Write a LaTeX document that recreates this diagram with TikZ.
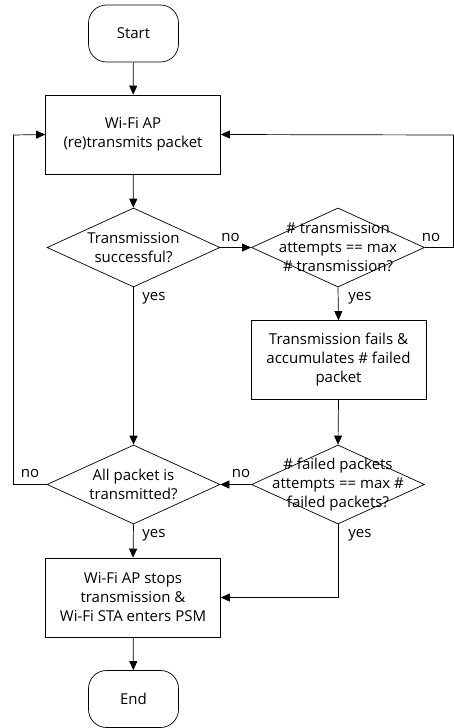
\documentclass[tikz,border=0pt]{standalone}
\usepackage{fontspec}
\setmainfont{Open Sans}
\usetikzlibrary{shapes.geometric,arrows.meta}
\begin{document}
\begin{tikzpicture}[x=1pt,y=-1pt,
  font=\fontsize{15}{19}\selectfont,
  line width=0.7pt,
  arr/.style={-{Triangle[length=9pt,width=8pt]}},
  term/.style={draw,rounded corners=18pt,minimum width=90pt,minimum height=57pt,inner sep=0pt},
  proc/.style={draw,minimum width=175pt,minimum height=79pt,inner sep=0pt,align=center},
  dec/.style={draw,diamond,minimum width=173pt,minimum height=79pt,inner sep=0pt},
  dtext/.style={align=center,inner sep=0pt},
  lbl/.style={inner sep=0pt}]
\useasboundingbox (0,0) rectangle (454,728);
\node[term] (start) at (133.5,33.5) {Start};
\node[proc] (box1) at (133,134.5) {Wi-Fi AP\\(re)transmits packet};
\node[dec] (d1) at (133.5,247.5) {};
\node[dtext] (d1t) at (d1) {Transmission\\successful?};
\node[dec] (d2) at (338,247.5) {};
\node[dtext] (d2t) at (d2) {\# transmission\\attempts == max\\\# transmission?};
\node[proc] (box2) at (338.5,360) {Transmission fails \&\\accumulates \# failed\\packet};
\node[dec] (d3) at (338,484.5) {};
\node[dtext] (d3t) at (d3) {\# failed packets\\attempts == max \#\\failed packets?};
\node[dec] (d4) at (133.5,484.5) {};
\node[dtext] (d4t) at (d4) {All packet is\\transmitted?};
\node[proc] (box3) at (133,597.5) {Wi-Fi AP stops\\transmission \&\\Wi-Fi STA enters PSM};
\node[term] (end) at (133.5,699) {End};
\coordinate (rt) at (453.5,247.5);
\coordinate (rtop) at (453.5,135);
\coordinate (lb) at (13.5,484.5);
\coordinate (ltop) at (13.5,135);
\draw[arr] (start) -- (box1);
\draw[arr] (box1) -- (d1);
\draw[arr] (d1.east) -- (d2.west);
\draw[arr] (d2.east) -- (rt) -- (rtop) -- (box1.east);
\draw[arr] (d2.south) -- (box2.north);
\draw[arr] (d1.south) -- (d4.north);
\draw[arr] (box2.south) -- (d3.north);
\draw[arr] (d3.west) -- (d4.east);
\draw[arr] (d4.west) -- (lb) -- (ltop) -- (box1.west);
\draw[arr] (d4.south) -- (box3.north);
\draw[arr] (d3.south) |- (box3.east);
\draw[arr] (box3) -- (end);
\node[lbl] (n1) at (230.5,237) {no};
\node[lbl] (n2) at (431,237) {no};
\node[lbl] (n3) at (30,473) {no};
\node[lbl] (n4) at (241,473) {no};
\node[lbl] (y1) at (154,298) {yes};
\node[lbl] (y2) at (360,298) {yes};
\node[lbl] (y3) at (154,535) {yes};
\node[lbl] (y4) at (360,535) {yes};
\end{tikzpicture}
\end{document}
